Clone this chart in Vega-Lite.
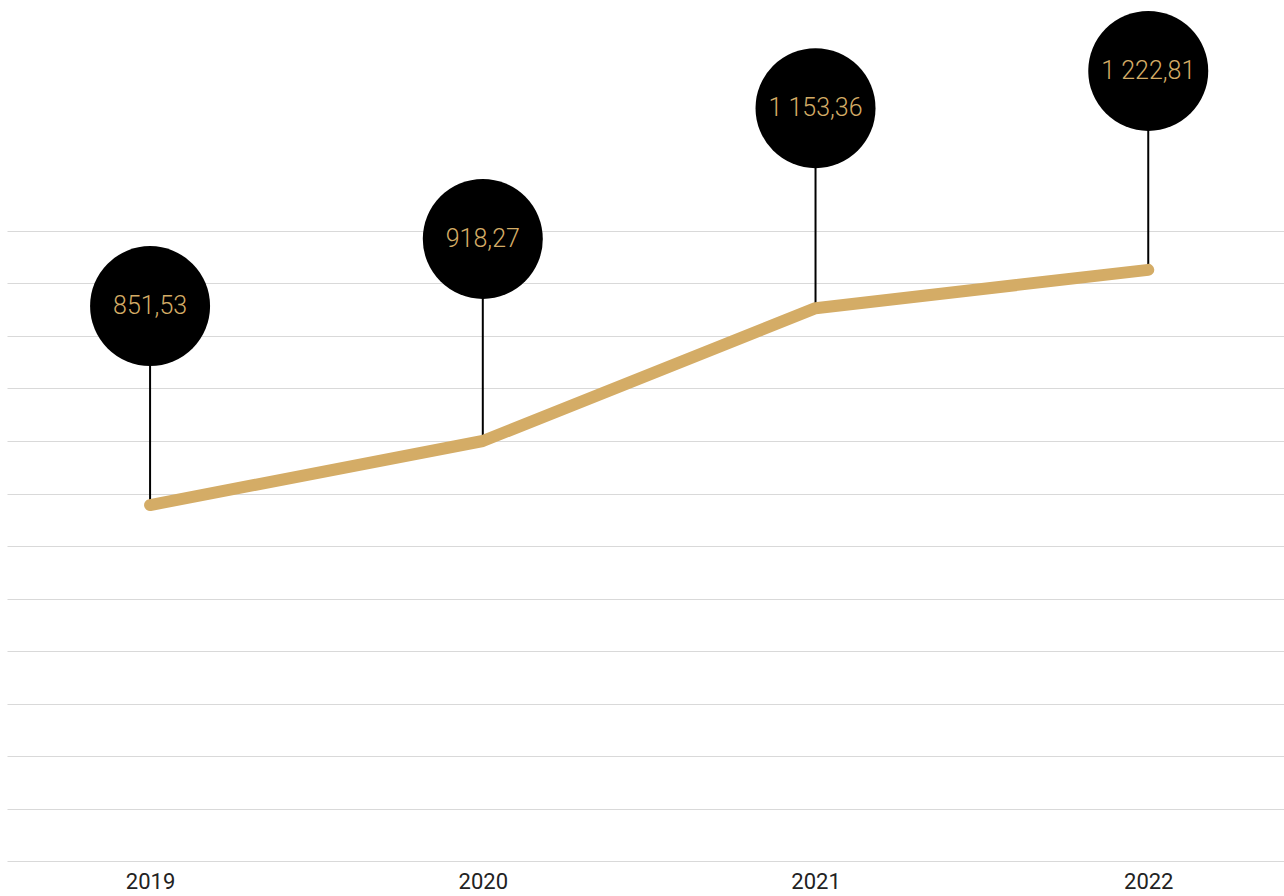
{
  "$schema": "https://vega.github.io/schema/vega-lite/v6.json",
  "autosize": {"type": "none"},
  "width": 1277,
  "height": 861,
  "padding": {"left": 7, "top": 0, "right": 0, "bottom": 35},
  "background": "white",
  "config": {"view": {"stroke": null}, "font": "Roboto"},
  "data": {
    "values": [
      {"year": 2019, "line": 678, "bubble": 1057, "label": "851,53"},
      {"year": 2020, "line": 800, "bubble": 1185, "label": "918,27"},
      {"year": 2021, "line": 1053, "bubble": 1434, "label": "1 153,36"},
      {"year": 2022, "line": 1126, "bubble": 1505, "label": "1 222,81"}
    ]
  },
  "encoding": {
    "x": {
      "field": "year",
      "type": "quantitative",
      "scale": {"domain": [2018.57, 2022.408], "nice": false, "zero": false},
      "axis": {
        "values": [2019, 2020, 2021, 2022],
        "format": "d",
        "title": null,
        "grid": false,
        "domain": false,
        "ticks": false,
        "labelFontSize": 22,
        "labelColor": "#222222",
        "labelPadding": 10,
        "labelFont": "Roboto"
      }
    }
  },
  "layer": [
    {
      "mark": {"type": "rule", "strokeWidth": 2, "color": "black"},
      "encoding": {
        "y": {
          "field": "line",
          "type": "quantitative",
          "scale": {"domain": [0, 1640], "nice": false, "zero": true},
          "axis": {
            "values": [0, 100, 200, 300, 400, 500, 600, 700, 800, 900, 1000, 1100, 1200],
            "labels": false,
            "ticks": false,
            "domain": false,
            "title": null,
            "grid": true,
            "gridColor": "#d9d9d9",
            "gridWidth": 1
          }
        },
        "y2": {"field": "bubble"}
      }
    },
    {
      "mark": {"type": "line", "color": "#D4AC66", "strokeWidth": 12, "strokeCap": "round", "strokeJoin": "round"},
      "encoding": {"y": {"field": "line", "type": "quantitative"}}
    },
    {
      "mark": {"type": "circle", "color": "black", "opacity": 1, "size": 14400},
      "encoding": {"y": {"field": "bubble", "type": "quantitative"}}
    },
    {
      "mark": {"type": "text", "color": "#D4AC66", "fontSize": 25, "fontWeight": 300, "font": "Roboto", "baseline": "middle", "align": "center"},
      "encoding": {
        "y": {"field": "bubble", "type": "quantitative"},
        "text": {"field": "label"}
      }
    }
  ]
}
